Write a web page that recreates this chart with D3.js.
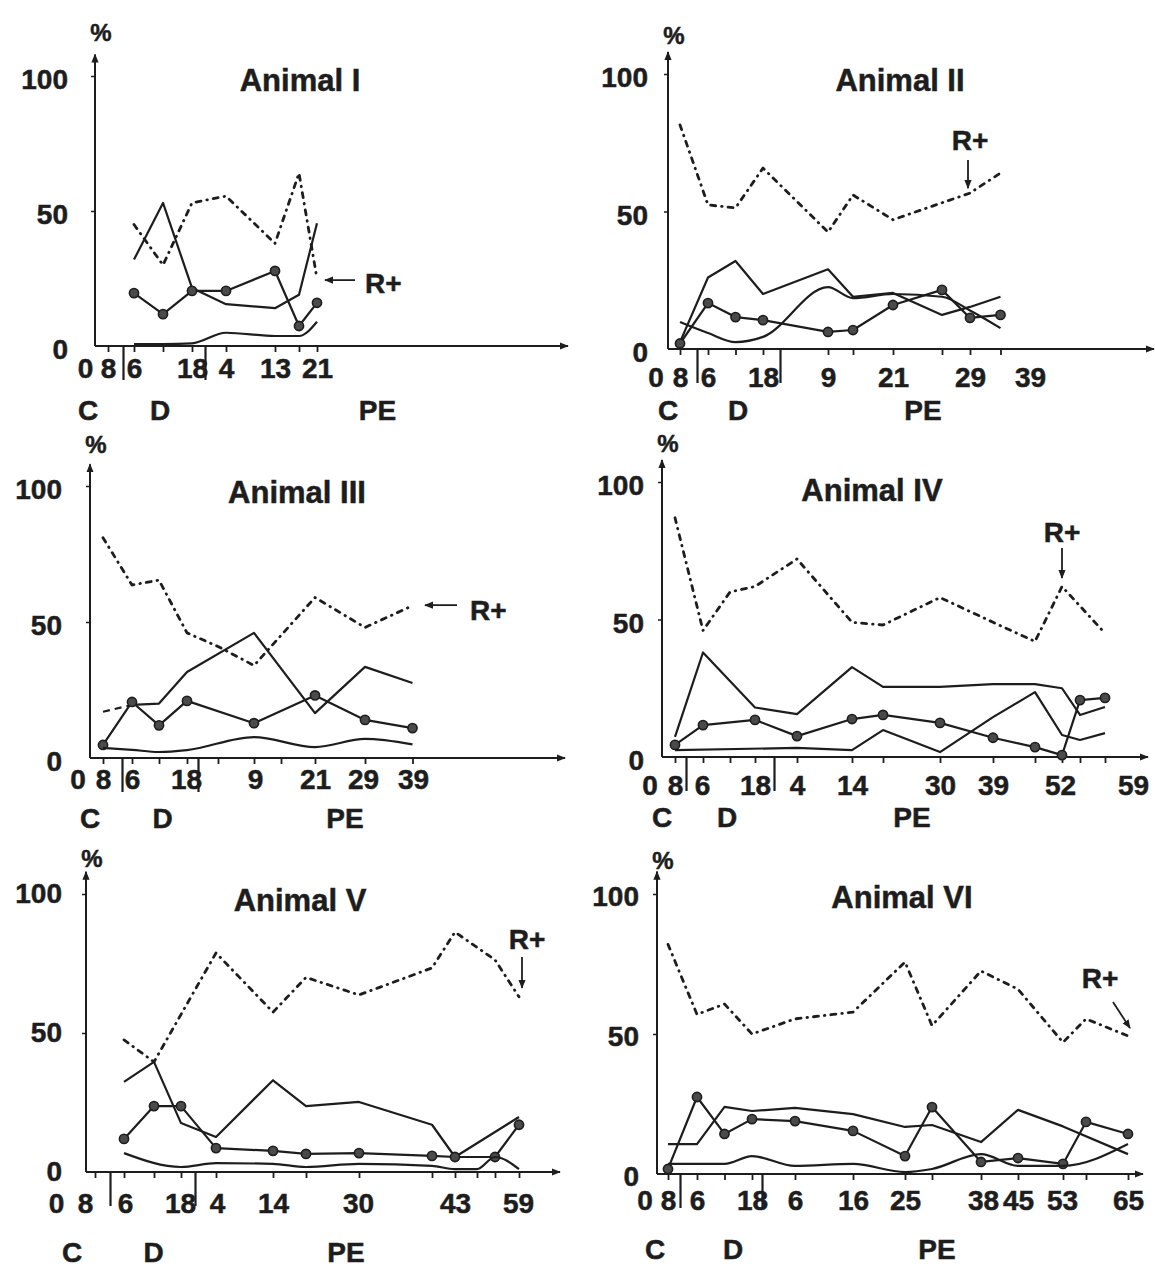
<!DOCTYPE html>
<meta charset="utf-8">
<title>Animal I - VI</title>
<style>
  body { margin:0; padding:0; background:#fff; }
  svg text { font-family: 'Liberation Sans', Arial, Helvetica, sans-serif; font-weight: 700; fill: #1d1d1d; stroke: #1d1d1d; stroke-width: 0.5px; }
</style>
<body>
<svg id="chart" width="1155" height="1269"></svg>
<script src="https://cdn.jsdelivr.net/npm/d3@7"></script>
<script>

// ---- data (x = sampling slot along each axis, y = %) ----

// Animal I
var slotsI = [1.56, 2.72, 3.88, 5.24, 7.2, 8.16, 8.88];
var dashI  = [45, 30, 53, 55.5, 38, 64, 25];
var peakI  = [32, 53, 21.5, 15.5, 14, 19, 45.5];
var dotsI  = [19.6, 11.8, 20.4, 20.4, 27.8, 7.4, 16];
var lowI   = [0.7, 0.7, 1, 4.9, 3.7, 3.7, 9];

// Animal II
var slotsII = [0.48, 1.6, 2.7, 3.8, 6.4, 7.4, 9.0, 10.96, 12.08, 13.3];
var dashII  = [81.5, 52.4, 51.3, 65.8, 42.5, 56, 47, null, 56.7, 64];
var peakII  = [2.5, 26, 32, 20, 29, 19, 20.4, 12.4, 15.3, 19];
var bowlII  = [9.8, 5.8, 2.5, 4.4, 22.5, 18.5, 20, 19, 14, 7.6];
var dotsII  = [2, 16.7, 11.6, 10.5, 6.2, 6.9, 16, 21.5, 11.3, 12.4];

// Animal III
var slotsIII = [0.52, 1.68, 2.76, 3.88, 5.12, 6.56, 9.0, 11.0, 12.9];
var dashIII  = [81, 63.6, 65.4, 46, 41, 34, 59, 48, 56];
var leadIII  = [17, 19.5, null, null, null, null, null, null, null];
var peakIII  = [null, 19.5, 20, 31.6, null, 46, 16.5, 33.5, 27.6];
var dotsIII  = [4.8, 20.6, 12, 21, null, 12.8, 23, 14, 11];
var lowIII   = [3.7, 3, 2.2, 2.9, null, 7.7, 4, 7, 5];

// Animal IV
var slotsIV = [0.52, 1.64, 2.72, 3.72, 5.4, 7.6, 8.84, 11.12, 13.24, 14.92, 16.0, 16.72, 17.72];
var dashIV  = [87, 46, 60, 62, 72, 49, 48, 58, 49, 42, 62, null, 45];
var peakIV  = [7.3, 38, null, 18, 15.6, 32.7, 25.5, 25.5, 26.5, 26.5, 25, 15.3, 18.2];
var lowIV   = [2.5, null, null, null, 3.3, 2.5, 9.8, 1.8, 14.5, 23.6, 8, 6.2, 8.7];
var dotsIV  = [4.4, 11.6, null, 13.5, 7.6, 13.8, 15.3, 12.4, 7, 3.6, 0.7, 20.7, 21.5];

// Animal V
var slotsV = [1.52, 2.72, 3.8, 5.2, 7.48, 8.8, 10.92, 13.84, 14.76, 15.64, 16.36, 17.32];
var dashV  = [47.5, 39.6, null, 78.8, 57.5, 70, 63.7, 73.4, 86.3, null, 76.3, 63];
var peakV  = [32.4, 39.6, 17.6, 12.6, 33, 23.7, 25.2, 17, 5.4, null, null, 19.8];
var dotsV  = [11.9, 23.7, 23.7, 8.6, 7.6, 6.5, 6.8, 5.8, 5.4, null, 5.4, 17];
var lowV   = [6.8, null, 1.8, 3.2, 2.9, 1.8, 2.9, 2.2, 1, 1, 5.4, 1];

// Animal VI
var slotsVI = [0.44, 1.6, 2.7, 3.8, 5.52, 7.84, 9.92, 11.0, 12.96, 14.44, 16.24, 17.16, 18.84];
var dashVI  = [82, 57, 60.7, 50, 55.4, 57.8, 75.7, 53, 72.5, 66, 47, 55.4, 49.3];
var peakVI  = [10.7, 10.7, 24, 22.5, 23.6, 21.4, 16.8, 17.5, 11.4, 22.9, 17, null, 7.1];
var dotsVI  = [1.8, 27.5, 14.3, 19.6, 18.9, 15.4, 6.4, 23.9, 4.3, 5.7, 3.6, 18.6, 14.3];
var lowVI   = [3.6, null, 3.6, 6.4, 2.9, 3.6, 0.7, 1.8, 7.1, 2.9, 2.9, null, 10.7];

// tick marks, tick labels, phase dividers
var ticksI   = [0.52, 1.56, 2.72, 3.88, 5.24, 7.2, 8.16, 8.88];
var labelsI  = [[-0.4,'0'], [0.52,'8'], [1.56,'6'], [3.88,'18'], [5.24,'4'], [7.2,'13'], [8.88,'21']];
var ticksII  = [0.48, 1.6, 2.7, 3.8, 6.4, 7.4, 9.0, 10.96, 12.08, 13.3];
var labelsII = [[-0.5,'0'], [0.48,'8'], [1.6,'6'], [3.8,'18'], [6.4,'9'], [9.0,'21'], [12.08,'29'], [14.48,'39']];
var ticksIII  = [0.52, 1.68, 2.76, 3.88, 5.12, 6.56, 7.64, 9.0, 11.0, 12.9];
var labelsIII = [[-0.5,'0'], [0.52,'8'], [1.68,'6'], [3.84,'18'], [6.6,'9'], [9.0,'21'], [10.92,'29'], [12.92,'39']];
var ticksIV  = [0.52, 1.64, 2.72, 3.72, 5.4, 7.6, 8.84, 11.12, 13.24, 14.92, 16.0, 16.72, 17.72];
var labelsIV = [[-0.5,'0'], [0.52,'8'], [1.6,'6'], [3.72,'18'], [5.4,'4'], [7.6,'14'], [11.12,'30'], [13.24,'39'], [15.92,'52'], [18.84,'59']];
var ticksV  = [0.36, 1.52, 2.72, 3.8, 5.2, 7.48, 8.8, 10.92, 13.84, 14.76, 15.64, 16.36, 17.32];
var labelsV = [[-1.2,'0'], [-0.04,'8'], [1.56,'6'], [3.76,'18'], [5.24,'4'], [7.48,'14'], [10.88,'30'], [14.76,'43'], [17.28,'59']];
var ticksVI  = [0.44, 1.6, 2.7, 3.8, 5.52, 7.84, 9.92, 11.0, 12.96, 14.44, 16.24, 17.16, 18.84];
var labelsVI = [[-0.5,'0'], [0.44,'8'], [1.6,'6'], [3.8,'18'], [5.52,'6'], [7.84,'16'], [9.92,'25'], [13.04,'38'], [14.44,'45'], [16.2,'53'], [18.84,'65']];

var phaseNames = ['C', 'D', 'PE'];

var panels = [
  { title:'Animal I',   ox:95,  oy:346,  len:473, h:270, titleX:205, titleY:266, labelDy:22, phaseDy:64, yPad:27, yDy:0.45,
    slots:slotsI, ticks:ticksI, labels:labelsI, dividers:[1.12, 4.4], phase:[-0.28, 2.6, 11.3],
    series:[{v:dashI,k:'dash'}, {v:peakI,k:'solid'}, {v:dotsI,k:'dots'}, {v:lowI,k:'smooth'}],
    note:{text:[10.8, 23.3], tail:[10.4, 24.4], tip:[9.2, 24.4], anchor:'start'} },
  { title:'Animal II',  ox:668, oy:349,  len:486, h:275, titleX:232, titleY:269, labelDy:28, phaseDy:61, yPad:20, yDy:0.45,
    slots:slotsII, ticks:ticksII, labels:labelsII, dividers:[1.16, 4.48], phase:[0, 2.8, 10.2],
    series:[{v:dashII,k:'dash'}, {v:peakII,k:'solid'}, {v:bowlII,k:'smooth'}, {v:dotsII,k:'dots'}],
    note:{text:[12.08, 76], tail:[12.0, 68.7], tip:[12.0, 58.5], anchor:'middle'} },
  { title:'Animal III', ox:90,  oy:758,  len:475, h:272, titleX:207, titleY:266, labelDy:21, phaseDy:60, yPad:28, yDy:0.45,
    slots:slotsIII, ticks:ticksIII, labels:labelsIII, dividers:[1.28, 4.32], phase:[0, 2.9, 10.2],
    series:[{v:dashIII,k:'dash'}, {v:leadIII,k:'lead'}, {v:peakIII,k:'solid'}, {v:dotsIII,k:'dots'}, {v:lowIII,k:'smooth'}],
    note:{text:[15.2, 54.4], tail:[14.68, 56.2], tip:[13.4, 56.2], anchor:'start'} },
  { title:'Animal IV',  ox:662, oy:757,  len:486, h:275, titleX:210, titleY:267, labelDy:28, phaseDy:60, yPad:18, yDy:0.45,
    slots:slotsIV, ticks:ticksIV, labels:labelsIV, dividers:[0.96, 4.48], phase:[0, 2.6, 10.0],
    series:[{v:dashIV,k:'dash'}, {v:peakIV,k:'solid'}, {v:lowIV,k:'solid'}, {v:dotsIV,k:'dots'}],
    note:{text:[16.0, 81.8], tail:[16.0, 76], tip:[16.0, 65.1], anchor:'middle'} },
  { title:'Animal V',   ox:86,  oy:1172, len:474, h:278, titleX:214, titleY:272, labelDy:31, phaseDy:80, yPad:24, yDy:0.3,
    slots:slotsV, ticks:ticksV, labels:labelsV, dividers:[0.96, 4.36], phase:[-0.56, 2.7, 10.4],
    series:[{v:dashV,k:'dash'}, {v:peakV,k:'solid'}, {v:dotsV,k:'dots'}, {v:lowV,k:'smooth'}],
    note:{text:[17.64, 83.5], tail:[17.44, 77.3], tip:[17.44, 66.2], anchor:'middle'} },
  { title:'Animal VI',  ox:657, oy:1174, len:486, h:280, titleX:245, titleY:277, labelDy:26, phaseDy:75, yPad:18, yDy:0.4,
    slots:slotsVI, ticks:ticksVI, labels:labelsVI, dividers:[0.92, 4.2], phase:[-0.08, 3.04, 11.2],
    series:[{v:dashVI,k:'dash'}, {v:peakVI,k:'solid'}, {v:dotsVI,k:'dots'}, {v:lowVI,k:'smooth'}],
    note:{text:[17.72, 70], tail:[18.24, 61.4], tip:[18.92, 52.1], anchor:'middle'} }
];

var ink = '#1d1d1d';
var svg = d3.select('#chart');

svg.append('defs').append('marker')
    .attr('id', 'ah')
    .attr('viewBox', '0 0 10 10')
    .attr('refX', 9).attr('refY', 5)
    .attr('markerWidth', 9).attr('markerHeight', 9)
    .attr('markerUnits', 'userSpaceOnUse')
    .attr('orient', 'auto')
  .append('path')
    .attr('d', 'M0,1 L10,5 L0,9 Z')
    .attr('fill', ink);

panels.forEach(function(p) {
  var g = svg.append('g');
  var x = d3.scaleLinear().domain([0, p.len / 25]).range([p.ox, p.ox + p.len]);
  var y = d3.scaleLinear().domain([0, 100]).range([p.oy, p.oy - p.h]);

  // axis lines with arrow heads
  g.append('line')
    .attr('x1', p.ox).attr('y1', p.oy).attr('x2', p.ox).attr('y2', y(108))
    .attr('stroke', ink).attr('stroke-width', 2).attr('marker-end', 'url(#ah)');
  g.append('line')
    .attr('x1', p.ox).attr('y1', p.oy).attr('x2', p.ox + p.len).attr('y2', p.oy)
    .attr('stroke', ink).attr('stroke-width', 2).attr('marker-end', 'url(#ah)');

  // minor ticks on x
  g.append('g').attr('transform', 'translate(0,' + p.oy + ')')
    .call(d3.axisBottom(x).tickValues(p.ticks).tickSize(6).tickFormat(''))
    .call(function(a) { a.select('.domain').remove(); a.selectAll('line').attr('stroke', ink).attr('stroke-width', 1.8); });

  // phase dividers
  g.append('g').attr('transform', 'translate(0,' + p.oy + ')')
    .call(d3.axisBottom(x).tickValues(p.dividers).tickSize(34).tickFormat(''))
    .call(function(a) { a.select('.domain').remove(); a.selectAll('line').attr('stroke', ink).attr('stroke-width', 2.2); });

  // tick labels
  g.append('g').attr('transform', 'translate(0,' + p.oy + ')')
    .call(d3.axisBottom(x).tickValues(p.labels.map(function(d) { return d[0]; }))
      .tickFormat(function(d, i) { return p.labels[i][1]; })
      .tickSize(0).tickPadding(p.labelDy - 10))
    .call(function(a) {
      a.select('.domain').remove();
      a.attr('font-family', null).attr('font-size', null);
      a.selectAll('text').style('font-size', '28px').attr('fill', ink);
    });

  // y axis ticks and labels
  g.append('g').attr('transform', 'translate(' + p.ox + ',0)')
    .call(d3.axisLeft(y).tickValues([50, 100]).tickSize(4).tickFormat(''))
    .call(function(a) { a.select('.domain').remove(); a.selectAll('line').attr('stroke', ink).attr('stroke-width', 1.5); });
  g.append('g').attr('transform', 'translate(' + p.ox + ',0)')
    .call(d3.axisLeft(y).tickValues([0, 50, 100]).tickSize(0).tickPadding(p.yPad).tickFormat(d3.format('d')))
    .call(function(a) {
      a.select('.domain').remove();
      a.attr('font-family', null).attr('font-size', null);
      a.selectAll('text').style('font-size', '28px').attr('dy', p.yDy + 'em').attr('fill', ink);
    });

  g.append('text')
    .attr('x', p.ox + 6).attr('y', p.oy - 314)
    .attr('text-anchor', 'middle').attr('dominant-baseline', 'central')
    .style('font-size', '24px').text('%');

  g.append('text')
    .attr('x', p.ox + p.titleX).attr('y', p.oy - p.titleY)
    .attr('text-anchor', 'middle').attr('dominant-baseline', 'central')
    .style('font-size', '31px').text(p.title);

  p.phase.forEach(function(s, i) {
    g.append('text')
      .attr('x', x(s)).attr('y', p.oy + p.phaseDy)
      .attr('text-anchor', 'middle').attr('dominant-baseline', 'central')
      .style('font-size', '28px').text(phaseNames[i]);
  });

  // series
  p.series.forEach(function(s) {
    var pts = [];
    s.v.forEach(function(v, i) { if (v != null) pts.push([p.slots[i], v]); });
    var line = d3.line()
      .x(function(d) { return x(d[0]); })
      .y(function(d) { return y(d[1]); })
      .curve(s.k == 'smooth' ? d3.curveMonotoneX : d3.curveLinear);
    var path = g.append('path')
      .attr('d', line(pts))
      .attr('fill', 'none')
      .attr('stroke', ink)
      .attr('stroke-linejoin', 'round');
    if (s.k == 'dash') {
      path.attr('stroke-width', 2.8).attr('stroke-dasharray', '5,6,0.5,6').attr('stroke-linecap', 'round');
    } else if (s.k == 'lead') {
      path.attr('stroke-width', 2.2).attr('stroke-dasharray', '7,5');
    } else {
      path.attr('stroke-width', 2.2);
    }
    if (s.k == 'dots') {
      g.selectAll(null).data(pts).enter().append('circle')
        .attr('cx', function(d) { return x(d[0]); })
        .attr('cy', function(d) { return y(d[1]); })
        .attr('r', 4.6)
        .attr('fill', '#4a4a4a').attr('stroke', ink).attr('stroke-width', 1.6);
    }
  });

  // R+ annotation
  var n = p.note;
  g.append('line')
    .attr('x1', x(n.tail[0])).attr('y1', y(n.tail[1]))
    .attr('x2', x(n.tip[0])).attr('y2', y(n.tip[1]))
    .attr('stroke', ink).attr('stroke-width', 1.8).attr('marker-end', 'url(#ah)');
  g.append('text')
    .attr('x', x(n.text[0])).attr('y', y(n.text[1]))
    .attr('text-anchor', n.anchor).attr('dominant-baseline', 'central')
    .style('font-size', '28px').text('R+');
});

</script>
</body>
</html>
